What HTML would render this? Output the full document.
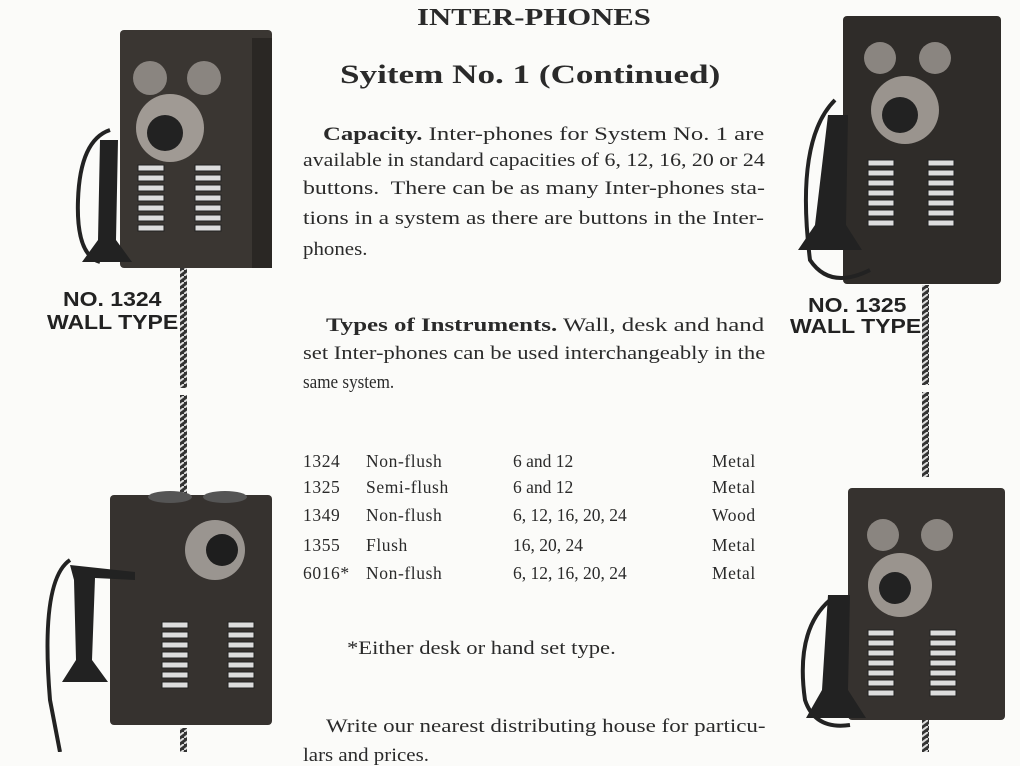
<!DOCTYPE html>
<html><head><meta charset="utf-8"><style>
body{margin:0;width:1020px;height:752px;background:#fbfbf9;overflow:hidden;position:relative;font-family:"Liberation Serif",serif;color:#2a2a2a}
.t{position:absolute;white-space:nowrap;font-size:19px;line-height:20px;transform-origin:0 50%}
.r{font-size:17.5px;letter-spacing:0.6px}
.n{font-size:17.5px;letter-spacing:0}
.b{font-weight:bold}
.lab{position:absolute;font-family:"Liberation Sans",sans-serif;font-weight:bold;font-size:20px;line-height:22px;color:#222;white-space:nowrap;transform:scaleX(1.15);transform-origin:0 50%}
svg{position:absolute;left:0;top:0}
</style></head><body>
<svg width="1020" height="752">
<defs>
<pattern id="rope" width="8" height="6" patternUnits="userSpaceOnUse"><rect width="8" height="6" fill="#333"/><path d="M0 6 L8 0" stroke="#ddd" stroke-width="2"/></pattern>
<g id="grille">
<rect x="0" y="0" width="26" height="6" fill="#ddd" stroke="#222"/><rect x="0" y="10" width="26" height="6" fill="#ddd" stroke="#222"/><rect x="0" y="20" width="26" height="6" fill="#ddd" stroke="#222"/><rect x="0" y="30" width="26" height="6" fill="#ddd" stroke="#222"/><rect x="0" y="40" width="26" height="6" fill="#ddd" stroke="#222"/><rect x="0" y="50" width="26" height="6" fill="#ddd" stroke="#222"/><rect x="0" y="60" width="26" height="6" fill="#ddd" stroke="#222"/>
</g>
</defs>
<rect x="180" y="268" width="7" height="120" fill="url(#rope)"/>
<rect x="180" y="395" width="7" height="100" fill="url(#rope)"/>
<rect x="180" y="728" width="7" height="24" fill="url(#rope)"/>
<rect x="922" y="285" width="7" height="100" fill="url(#rope)"/>
<rect x="922" y="392" width="7" height="85" fill="url(#rope)"/>
<rect x="922" y="720" width="7" height="32" fill="url(#rope)"/>

<rect x="120" y="30" width="152" height="238" rx="4" fill="#3a3632"/>
<rect x="252" y="38" width="20" height="230" fill="#2a2724"/>
<circle cx="150" cy="78" r="17" fill="#8a8580"/><circle cx="204" cy="78" r="17" fill="#8a8580"/>
<circle cx="170" cy="128" r="34" fill="#a09a94"/><circle cx="165" cy="133" r="18" fill="#222"/>
<g transform="translate(138,165)"><use href="#grille"/></g>
<g transform="translate(195,165)"><use href="#grille"/></g>
<path d="M110 130 Q80 140 78 200 Q76 255 100 262" stroke="#222" stroke-width="4" fill="none"/>
<path d="M100 140 L118 140 L116 240 L132 262 L82 262 L98 240 Z" fill="#222"/>

<rect x="110" y="495" width="162" height="230" rx="4" fill="#36322f"/>
<ellipse cx="170" cy="497" rx="22" ry="6" fill="#555"/><ellipse cx="225" cy="497" rx="22" ry="6" fill="#555"/>
<circle cx="215" cy="550" r="30" fill="#9a9590"/><circle cx="222" cy="550" r="16" fill="#1e1e1e"/>
<g transform="translate(162,622)"><use href="#grille"/></g>
<g transform="translate(228,622)"><use href="#grille"/></g>
<path d="M70 560 Q40 580 50 700 L60 752" stroke="#222" stroke-width="4" fill="none"/>
<path d="M70 565 L135 572 L135 580 L95 578 L92 660 L108 682 L62 682 L76 660 L74 580 Z" fill="#222"/>

<rect x="843" y="16" width="158" height="268" rx="4" fill="#2f2c29"/>
<circle cx="880" cy="58" r="16" fill="#8a8580"/><circle cx="935" cy="58" r="16" fill="#8a8580"/>
<circle cx="905" cy="110" r="34" fill="#9a948e"/><circle cx="900" cy="115" r="18" fill="#222"/>
<g transform="translate(868,160)"><use href="#grille"/></g>
<g transform="translate(928,160)"><use href="#grille"/></g>
<path d="M835 100 Q795 140 810 260 Q830 290 870 270" stroke="#222" stroke-width="4" fill="none"/>
<path d="M828 115 L848 115 L846 225 L862 250 L798 250 L815 225 Z" fill="#222"/>

<rect x="848" y="488" width="157" height="232" rx="4" fill="#36322f"/>
<circle cx="883" cy="535" r="16" fill="#8a8580"/><circle cx="937" cy="535" r="16" fill="#8a8580"/>
<circle cx="900" cy="585" r="32" fill="#9a948e"/><circle cx="895" cy="588" r="16" fill="#222"/>
<g transform="translate(868,630)"><use href="#grille"/></g>
<g transform="translate(930,630)"><use href="#grille"/></g>
<path d="M830 600 Q795 630 805 700 Q815 730 850 725" stroke="#222" stroke-width="4" fill="none"/>
<path d="M828 595 L850 595 L848 690 L866 718 L806 718 L822 690 Z" fill="#222"/>
</svg>

<div class="lab" style="left:63px;top:289px">NO. 1324</div>
<div class="lab" style="left:47px;top:312px">WALL TYPE</div>
<div class="lab" style="left:808px;top:295px">NO. 1325</div>
<div class="lab" style="left:790px;top:316px">WALL TYPE</div>

<div class="t b" style="left:417px;top:4px;font-size:24px;line-height:28px;transform:scaleX(1.28)">INTER-PHONES</div>
<div class="t b" style="left:340px;top:60px;font-size:26px;line-height:30px;transform:scaleX(1.35)">Syitem No. 1 (Continued)</div>

<div class="t" style="left:323px;top:125px;transform:scaleX(1.3)"><b>Capacity.</b> Inter-phones for System No. 1 are</div>
<div class="t" style="left:303px;top:151px;transform:scaleX(1.15)">available in standard capacities of 6, 12, 16, 20 or 24</div>
<div class="t" style="left:303px;top:179px;transform:scaleX(1.255)">buttons.&nbsp; There can be as many Inter-phones sta-</div>
<div class="t" style="left:303px;top:209px;transform:scaleX(1.235)">tions in a system as there are buttons in the Inter-</div>
<div class="t" style="left:303px;top:240px;transform:scaleX(1.1)">phones.</div>

<div class="t" style="left:326px;top:316px;transform:scaleX(1.31)"><b>Types of Instruments.</b> Wall, desk and hand</div>
<div class="t" style="left:303px;top:344px;transform:scaleX(1.19)">set Inter-phones can be used interchangeably in the</div>
<div class="t" style="left:303px;top:373px;transform:scaleX(0.9)">same system.</div>

<div class="t r" style="left:303px;top:451px">1324</div><div class="t r" style="left:366px;top:451px">Non-flush</div><div class="t n" style="left:513px;top:451px">6 and 12</div><div class="t r" style="left:712px;top:451px">Metal</div>
<div class="t r" style="left:303px;top:477px">1325</div><div class="t r" style="left:366px;top:477px">Semi-flush</div><div class="t n" style="left:513px;top:477px">6 and 12</div><div class="t r" style="left:712px;top:477px">Metal</div>
<div class="t r" style="left:303px;top:505px">1349</div><div class="t r" style="left:366px;top:505px">Non-flush</div><div class="t n" style="left:513px;top:505px">6, 12, 16, 20, 24</div><div class="t r" style="left:712px;top:505px">Wood</div>
<div class="t r" style="left:303px;top:535px">1355</div><div class="t r" style="left:366px;top:535px">Flush</div><div class="t n" style="left:513px;top:535px">16, 20, 24</div><div class="t r" style="left:712px;top:535px">Metal</div>
<div class="t r" style="left:303px;top:563px">6016*</div><div class="t r" style="left:366px;top:563px">Non-flush</div><div class="t n" style="left:513px;top:563px">6, 12, 16, 20, 24</div><div class="t r" style="left:712px;top:563px">Metal</div>

<div class="t" style="left:347px;top:639px;transform:scaleX(1.19)">*Either desk or hand set type.</div>
<div class="t" style="left:326px;top:717px;transform:scaleX(1.21)">Write our nearest distributing house for particu-</div>
<div class="t" style="left:303px;top:746px;transform:scaleX(1.1)">lars and prices.</div>
</body></html>
